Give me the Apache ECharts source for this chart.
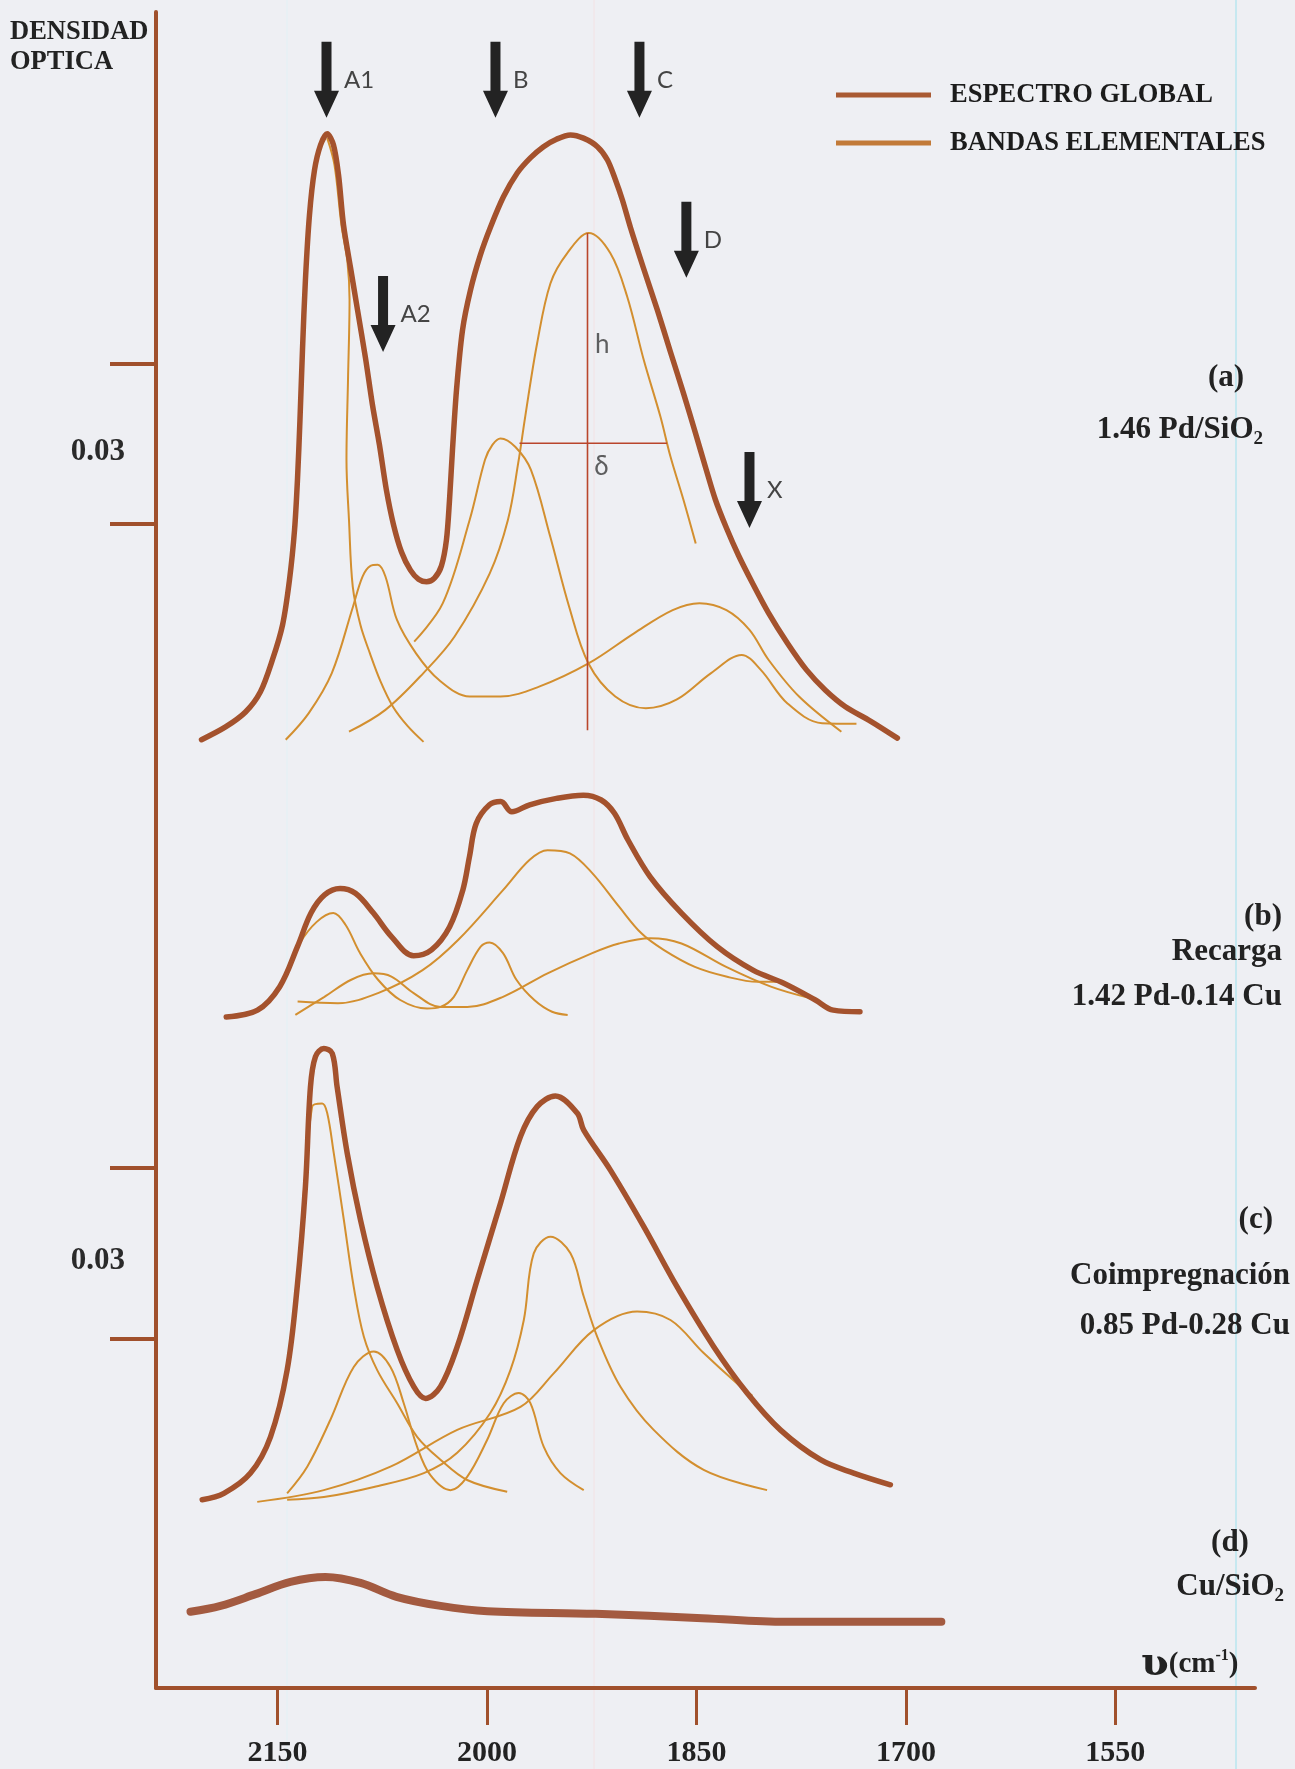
<!DOCTYPE html>
<html><head><meta charset="utf-8">
<script src="https://cdn.jsdelivr.net/npm/echarts@6/dist/echarts.min.js"></script>
<style>html,body{margin:0;padding:0;background:#eeeff3;}#c{width:1295px;height:1769px;}</style>
</head><body><div id="c"></div>
<script>
// ---------- DATA (x: wavenumber cm-1, y: optical density in units of 0.001, spectra stacked) ----------
const wavenumberTicks = [2150, 2000, 1850, 1700, 1550];
const scaleBarTicks = [65.4, 97.5, 218.25, 248.25];
const scaleBarLabelPos = [80.1, 231.75];
const scaleBarLabel = '0.03';

// (a) 1.46 Pd/SiO2
const globalA = [[2204.4,177.8],[2187.2,180.2],[2172.9,183.0],[2162.2,186.8],[2153.6,192.8],[2146.4,199.3],[2141.4,207.8],[2137.8,217.1],[2135.7,226.5],[2133.9,237.8],[2132.1,250.9],[2130.0,264.0],[2127.1,276.2],[2123.5,284.6],[2119.2,289.3],[2114.4,291.4],[2109.9,289.3],[2106.3,283.7],[2102.7,274.3],[2097.7,266.3],[2092.7,258.4],[2087.0,249.4],[2082.0,240.6],[2077.0,233.1],[2072.0,224.6],[2066.9,218.1],[2061.2,213.0],[2054.8,209.6],[2049.0,207.9],[2043.3,207.4],[2037.6,208.1],[2032.6,210.4],[2029.0,215.3],[2026.8,222.8],[2024.7,232.1],[2021.8,243.4],[2017.5,254.6],[2011.8,262.1],[2004.7,268.7],[1997.5,273.9],[1988.2,279.6],[1978.2,284.1],[1968.9,286.9],[1959.5,289.0],[1950.2,290.4],[1940.2,291.2],[1930.9,290.6],[1920.9,289.0],[1913.7,286.5],[1908.0,282.8],[1903.0,279.0],[1897.3,273.9],[1888.0,266.3],[1878.0,258.4],[1868.6,250.5],[1859.3,242.8],[1850.7,235.3],[1843.5,228.9],[1836.4,222.8],[1828.5,217.5],[1819.9,212.4],[1809.9,207.2],[1798.4,201.6],[1784.8,195.9],[1771.2,190.9],[1757.6,187.1],[1743.3,184.0],[1725.4,181.3],[1706.1,178.1]];
const bandA1a = [[2114.4,290.6],[2109.2,285.6],[2104.2,274.3],[2099.9,267.4],[2098.4,260.3],[2099.5,245.3],[2100.6,230.3],[2098.8,219.0],[2096.1,206.5],[2090.6,199.3],[2083.8,194.0],[2076.3,188.8],[2067.3,184.0],[2056.9,180.4],[2045.4,177.4]];
const bandA2Da = [[2144.1,177.8],[2127.6,182.8],[2111.1,190.3],[2096.0,202.7],[2089.1,208.4],[2083.4,210.4],[2078.2,210.6],[2072.7,208.4],[2064.5,200.3],[2050.8,194.0],[2034.3,189.0],[2012.4,185.9],[1990.3,185.9],[1963.1,187.7],[1927.3,192.1],[1894.4,197.8],[1867.0,202.1],[1847.8,203.4],[1828.5,202.1],[1812.0,198.4],[1798.4,192.8],[1776.5,185.9],[1746.2,179.3]];
const bandCa = [[2098.8,179.3],[2072.7,183.4],[2045.5,190.3],[2023.3,197.1],[1998.0,209.0],[1985.0,219.0],[1977.6,229.7],[1972.6,238.4],[1964.1,252.1],[1954.5,263.4],[1942.6,269.0],[1927.1,272.8],[1911.6,269.0],[1899.6,260.9],[1887.7,249.0],[1875.8,238.4],[1868.6,230.9],[1859.3,222.8],[1850.5,214.6]];
const bandBXa = [[2052.1,196.2],[2031.6,203.4],[2012.4,219.0],[2001.4,230.3],[1996.1,233.1],[1990.3,234.3],[1979.6,232.7],[1968.5,228.4],[1954.7,215.9],[1941.1,202.7],[1927.3,192.1],[1908.1,185.9],[1886.2,183.7],[1864.3,185.3],[1839.5,190.3],[1817.6,193.7],[1803.9,190.9],[1784.8,184.6],[1760.0,180.9],[1735.4,180.8]];
const heightLine = [[1928.0,272.8],[1928.0,179.6]];
const widthLine = [[1976.7,233.4],[1871.1,233.4]];
const hdLabels = ['h', 'δ'];
const hdPos = [[1917.5,251.8],[1918.0,229.0]];

// (b) Recarga 1.42 Pd-0.14 Cu
const globalB = [[2186.7,125.8],[2164.3,127.1],[2148.4,131.5],[2135.7,139.0],[2126.0,145.3],[2116.3,148.7],[2105.2,149.9],[2094.2,149.0],[2081.3,145.3],[2068.4,140.9],[2052.5,137.3],[2039.7,138.4],[2026.8,142.7],[2017.3,149.6],[2012.5,155.9],[2007.7,162.1],[1998.2,165.6],[1990.1,166.2],[1982.2,164.3],[1969.4,165.6],[1950.2,166.8],[1931.0,167.4],[1918.2,166.5],[1908.7,164.0],[1899.0,159.0],[1883.1,152.1],[1860.7,145.3],[1835.1,139.0],[1809.5,134.6],[1787.1,132.1],[1764.8,129.0],[1752.0,127.1],[1732.9,126.8]];
const bandA1Bb = [[2148.4,131.5],[2134.0,139.6],[2122.1,143.6],[2110.0,145.3],[2101.3,143.1],[2090.9,137.8],[2078.0,132.8],[2062.1,129.0],[2042.9,127.4],[2033.3,127.7],[2023.7,129.6],[2014.1,134.6],[2004.5,139.0],[1998.1,139.8],[1988.5,137.8],[1978.9,132.8],[1966.1,129.0],[1953.4,126.8],[1942.2,126.2]];
const bandA2Db = [[2137.2,126.2],[2116.4,129.6],[2097.2,132.8],[2081.3,134.0],[2068.4,133.4],[2052.5,130.3],[2033.3,127.7],[2014.1,127.7],[1988.5,129.6],[1956.6,134.0],[1924.6,137.8],[1905.4,139.6],[1883.1,140.6],[1860.7,139.6],[1828.7,135.2],[1796.7,131.5],[1768.0,129.3]];
const bandCb = [[2135.6,128.7],[2106.8,128.4],[2078.0,130.3],[2046.1,134.6],[2020.5,140.3],[1988.5,149.6],[1969.4,155.3],[1956.6,157.1],[1940.6,156.5],[1924.6,152.8],[1905.4,146.5],[1889.4,141.5],[1873.5,138.4],[1851.1,135.2],[1828.7,133.4],[1806.3,132.4],[1787.1,132.4]];

// (c) Coimpregnación 0.85 Pd-0.28 Cu
const globalC = [[2203.9,35.3],[2188.4,36.5],[2169.3,40.3],[2155.0,47.1],[2143.1,59.6],[2135.9,75.2],[2130.0,94.0],[2126.4,112.7],[2122.8,118.4],[2116.8,119.9],[2110.8,119.0],[2107.3,112.7],[2100.1,100.3],[2090.6,87.8],[2078.6,75.2],[2064.3,63.4],[2052.4,56.5],[2044.0,54.3],[2033.3,56.5],[2021.3,64.0],[2007.0,76.5],[1990.3,90.9],[1976.0,103.4],[1964.1,109.0],[1951.0,111.0],[1935.4,107.8],[1930.7,104.6],[1911.6,97.1],[1887.7,86.5],[1863.8,75.2],[1837.6,64.0],[1813.7,55.3],[1789.9,48.4],[1761.2,42.8],[1737.4,40.3],[1711.1,38.1]];
const bandA1c = [[2133.5,82.1],[2125.2,109.0],[2118.0,109.6],[2114.4,107.8],[2109.7,100.3],[2102.5,87.8],[2095.4,75.2],[2088.2,65.9],[2078.6,59.6],[2064.3,53.4],[2050.0,47.1],[2033.3,42.8],[2014.2,39.0],[1985.5,36.8]];
const bandA2Bc = [[2143.1,36.5],[2128.7,41.5],[2112.1,50.3],[2095.4,60.2],[2081.0,63.1],[2069.1,60.2],[2059.6,53.4],[2050.0,45.2],[2040.5,39.9],[2026.1,37.1],[2014.2,39.6],[1999.9,46.5],[1988.0,53.4],[1977.2,55.3],[1968.9,53.4],[1959.3,45.2],[1947.4,40.3],[1930.7,37.1]];
const bandCc = [[2143.1,35.3],[2116.8,35.8],[2081.0,37.7],[2045.2,40.3],[2021.3,44.1],[1997.5,51.6],[1983.2,59.6],[1973.6,69.0],[1966.5,81.5],[1954.5,84.6],[1940.2,81.5],[1930.7,73.4],[1921.1,65.9],[1904.4,56.5],[1880.6,48.4],[1844.8,40.9],[1799.4,37.1]];
const bandDc = [[2164.5,34.9],[2116.8,37.1],[2069.1,41.5],[2021.3,48.4],[1976.0,52.7],[1952.2,59.0],[1923.5,67.1],[1892.5,70.6],[1868.6,69.0],[1844.8,62.8],[1820.9,57.1],[1809.9,54.8]];

// (d) Cu/SiO2
const globalD = [[2212.3,14.3],[2190.8,15.4],[2165.8,17.6],[2140.7,19.9],[2115.6,20.8],[2090.6,19.7],[2064.8,17.1],[2033.3,15.4],[1999.6,14.4],[1922.3,13.9],[1845.7,13.1],[1786.3,12.4],[1674.6,12.4]];

// Arrows marking band positions (tip position)
const arrowNames = ['A1','A2','B','C','D','X'];
const arrowWavenumbers = [2114.9, 2074.4, 1993.9, 1890.8, 1857.2, 1812.0];
const arrowTips = [294.4, 250.5, 294.4, 294.4, 264.4, 217.5];

// ---------- STYLE ----------
const GLOBAL_COLOR = '#a4522d';
const BAND_COLOR = '#d38f2f';
const AXIS_COLOR = '#a0502c';
const SERIF = '"Liberation Serif","Times New Roman",serif';
const SANS = 'Lato,"DejaVu Sans",sans-serif';

const chart = echarts.init(document.getElementById('c'), null, {renderer:'canvas'});

function band(data){ return {type:'line', name:'BANDAS ELEMENTALES', data, smooth:0.35, symbol:'none', color:BAND_COLOR, lineStyle:{color:BAND_COLOR, width:2}, z:2, silent:true}; }
function glob(data, w, c, s){ return {type:'line', name:'ESPECTRO GLOBAL', data, smooth:(s==null?0.35:s), symbol:'none', color:c||GLOBAL_COLOR, lineStyle:{color:c||GLOBAL_COLOR, width:w||5.5, cap:'round', join:'round'}, z:4, silent:true}; }
function thin(data){ return {type:'line', data, symbol:'none', lineStyle:{color:'#b9452b', width:1.6}, z:3, silent:true}; }

const series = [
  band(bandA1a), band(bandA2Da), band(bandCa), band(bandBXa),
  thin(heightLine), thin(widthLine),
  band(bandA1Bb), band(bandA2Db), band(bandCb),
  band(bandA1c), band(bandA2Bc), band(bandCc), band(bandDc),
  glob(globalA, 5.5, null, 0.3), glob(globalB), glob(globalC), glob(globalD, 8, '#a35a40'),
  {type:'scatter', silent:true, z:6,
   symbol:'path://M7.5,0 L17.5,0 L17.5,49 L25,49 L12.5,76 L0,49 L7.5,49 Z',
   symbolSize:[25,76], symbolOffset:[0,-38],
   itemStyle:{color:'#232323', opacity:1},
   label:{show:true, position:'right', distance:5, formatter:'{b}', fontFamily:SANS, fontSize:24, color:'#444'},
   data: arrowNames.map((n,i)=>({name:n, value:[arrowWavenumbers[i], arrowTips[i]]}))},
  {type:'scatter', silent:true, z:6, symbolSize:0,
   label:{show:true, position:'inside', formatter:'{b}', fontFamily:SANS, fontSize:26, color:'#3a3a3a'},
   data: hdLabels.map((n,i)=>({name:n, value:hdPos[i]}))}
];

const rightLabels = [
  {t:'(a)', x:1226, y:378, a:'center'},
  {t:'1.46 Pd/SiO{s|2}', x:1263, y:430, a:'right'},
  {t:'(b)', x:1282, y:917, a:'right'},
  {t:'Recarga', x:1282, y:952, a:'right'},
  {t:'1.42 Pd-0.14 Cu', x:1282, y:997, a:'right'},
  {t:'(c)', x:1273, y:1220, a:'right'},
  {t:'Coimpregnación', x:1290, y:1276, a:'right'},
  {t:'0.85 Pd-0.28 Cu', x:1290, y:1326, a:'right'},
  {t:'(d)', x:1230, y:1543, a:'center'},
  {t:'Cu/SiO{s|2}', x:1284, y:1587, a:'right'}
];

const graphics = [
  {type:'line', z:0, silent:true, shape:{x1:1236,y1:0,x2:1236,y2:1769}, style:{stroke:'#b8e6ef', lineWidth:1.5}},
  {type:'line', z:0, silent:true, shape:{x1:287,y1:0,x2:287,y2:1769}, style:{stroke:'#e2f1f5', lineWidth:1}},
  {type:'line', z:0, silent:true, shape:{x1:594,y1:0,x2:594,y2:1769}, style:{stroke:'#f3e2e4', lineWidth:1}},
  {type:'text', left:10, top:17, silent:true, style:{text:'DENSIDAD\nOPTICA', font:'bold 26.5px '+SERIF, fill:'#222', lineHeight:30}},
  {type:'text', x:1141, y:1665, silent:true, style:{text:'{u|ʋ}{b|(cm}{p|-1}{b|)}', textVerticalAlign:'middle', textAlign:'left',
    rich:{u:{font:'bold 40px "DejaVu Serif",'+SERIF, fill:'#222', lineHeight:40},
          b:{font:'bold 29px '+SERIF, fill:'#222', lineHeight:34},
          p:{font:'bold 16px '+SERIF, fill:'#222', lineHeight:16, padding:[0,0,18,0]}}}}
].concat(rightLabels.map(l=>({type:'text', x:l.x, y:l.y, silent:true, style:{text:l.t, textAlign:l.a, textVerticalAlign:'middle',
  font:'bold 31px '+SERIF, fill:'#222',
  rich:{s:{font:'bold 19px '+SERIF, fill:'#222', lineHeight:19, padding:[18,0,0,0]}}}})));

chart.setOption({
  animation:false,
  backgroundColor:'#eeeff3',
  grid:{left:156, right:40, top:12, bottom:81, containLabel:false},
  legend:{
    orient:'vertical', left:831, top:70, itemWidth:95, itemHeight:5, itemGap:8, icon:'rect', selectedMode:false,
    textStyle:{fontFamily:SERIF, fontWeight:'bold', fontSize:26.5, color:'#1c1c1c', lineHeight:30, padding:[10,0,0,14]},
    data:[{name:'ESPECTRO GLOBAL', itemStyle:{color:'#a95a33'}}, {name:'BANDAS ELEMENTALES', itemStyle:{color:'#c27a38'}}]
  },
  xAxis:{
    type:'value', inverse:true, min:1450, max:2237,
    splitLine:{show:false},
    axisLine:{show:true, onZero:false, lineStyle:{color:AXIS_COLOR, width:4}},
    axisTick:{show:true, customValues:wavenumberTicks, length:37, lineStyle:{color:AXIS_COLOR, width:3}},
    axisLabel:{show:true, customValues:wavenumberTicks, formatter:v=>String(v), margin:50, fontFamily:SERIF, fontWeight:'bold', fontSize:30, color:'#222'}
  },
  yAxis:[
    {type:'value', min:0, max:314.25, splitLine:{show:false},
     axisLine:{show:true, onZero:false, lineStyle:{color:AXIS_COLOR, width:4}},
     axisTick:{show:true, customValues:scaleBarTicks, length:46, lineStyle:{color:AXIS_COLOR, width:4}},
     axisLabel:{show:false}},
    {type:'value', min:0, max:314.25, position:'left', splitLine:{show:false},
     axisLine:{show:false}, axisTick:{show:false},
     axisLabel:{show:true, customValues:scaleBarLabelPos, formatter:()=>scaleBarLabel, margin:31, fontFamily:SERIF, fontWeight:'bold', fontSize:31, color:'#2a2a2a'}}
  ],
  graphic: graphics,
  series: series
});
</script>
</body></html>
